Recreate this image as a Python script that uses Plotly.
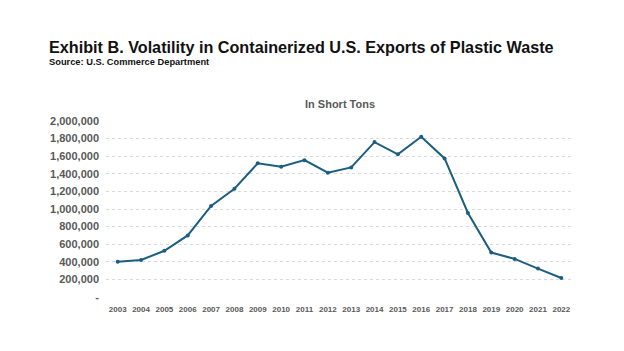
import plotly.graph_objects as go

years = [str(y) for y in range(2003, 2023)]
tons = [400000, 420000, 525000, 700000, 1035000, 1230000, 1520000, 1480000, 1555000, 1412000,
        1473000, 1760000, 1621000, 1821000, 1575000, 955000, 505000, 433000, 323000, 216000]
ytick_vals = list(range(0, 2000001, 200000))
ytick_text = ["-"] + [f"{v:,}" for v in ytick_vals[1:]]

L, R, T, B = 106, 51, 121, 54
PW, PH = 624 - L - R, 351 - T - B

fig = go.Figure()
fig.add_trace(go.Scatter(
    x=years, y=tons, mode="lines+markers",
    line=dict(color="#1b5e80", width=2),
    marker=dict(size=4, color="#1b5e80"),
    hoverinfo="skip", showlegend=False,
))

fig.update_layout(
    width=624, height=351,
    margin=dict(l=L, r=R, t=T, b=B),
    paper_bgcolor="white", plot_bgcolor="white",
    font=dict(family="Liberation Sans, Arial, sans-serif", color="#595959"),
    xaxis=dict(
        type="category", range=[-0.5, 19.5], showgrid=False, showline=False, zeroline=False,
        tickfont=dict(size=8, color="#595959", weight="bold"),
        ticks="", ticklen=0, ticklabelstandoff=6, fixedrange=True,
    ),
    yaxis=dict(
        range=[0, 2000000], tickvals=ytick_vals, ticktext=ytick_text,
        showgrid=True, gridcolor="#d9d9d9", griddash="dot", gridwidth=1,
        zeroline=False, showline=False,
        tickfont=dict(size=11, color="#595959", weight="bold"),
        ticks="", ticklabelstandoff=6, fixedrange=True,
    ),
    annotations=[
        dict(text="<b>Exhibit B. Volatility in Containerized U.S. Exports of Plastic Waste</b>",
             xref="paper", yref="paper", x=(47 - L) / PW, y=1 + (T - 47) / PH, xanchor="left", yanchor="middle",
             showarrow=False, font=dict(size=16.2, color="#111111")),
        dict(text="<b>Source: U.S. Commerce Department</b>",
             xref="paper", yref="paper", x=(47 - L) / PW, y=1 + (T - 62) / PH, xanchor="left", yanchor="middle",
             showarrow=False, font=dict(size=9.3, color="#111111")),
        dict(text="<b>In Short Tons</b>",
             xref="paper", yref="paper", x=(340 - L) / PW, y=1 + (T - 104) / PH, xanchor="center", yanchor="middle",
             showarrow=False, font=dict(size=11, color="#595959")),
    ],
)

fig.write_html("out.html")
